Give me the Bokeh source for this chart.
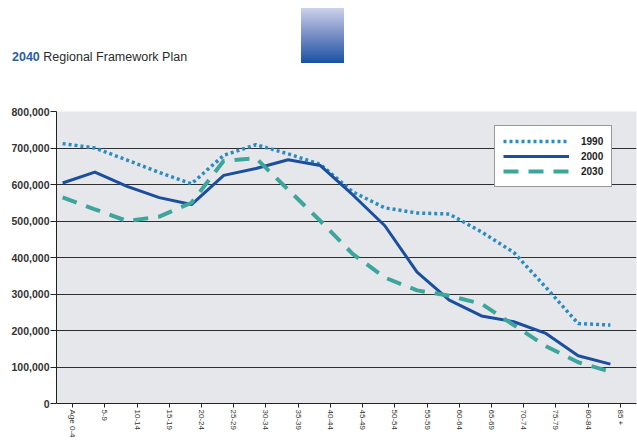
from bokeh.plotting import figure
from bokeh.models import (FactorRange, FixedTicker, NumeralTickFormatter, Legend,
                          LegendItem, Div, ColumnDataSource)
from bokeh.transform import dodge
from bokeh.layouts import column
from bokeh.embed import file_html
from bokeh.resources import INLINE

AGE_GROUPS = ["Age 0-4", "5-9", "10-14", "15-19", "20-24", "25-29", "30-34",
              "35-39", "40-44", "45-49", "50-54", "55-59", "60-64", "65-69",
              "70-74", "75-79", "80-84", "85 +"]
POP_1990 = [712000, 700000, 667000, 633000, 602000, 680000, 709000, 684000,
            655000, 580000, 536000, 522000, 519000, 470000, 414000, 318000,
            219000, 215000]
POP_2000 = [604000, 634000, 595000, 564000, 545000, 625000, 644000, 668000,
            652000, 572000, 487000, 360000, 283000, 240000, 224000, 192000,
            131000, 108000]
POP_2030 = [565000, 532000, 500000, 512000, 550000, 665000, 672000, 586000,
            500000, 410000, 345000, 310000, 295000, 273000, 215000, 157000,
            113000, 87000]
Y_TICKS = [0, 100000, 200000, 300000, 400000, 500000, 600000, 700000, 800000]
SERIES_NAMES = ["1990", "2000", "2030"]

FONT = "Liberation Sans"

src = ColumnDataSource(dict(age=AGE_GROUPS, p1990=POP_1990, p2000=POP_2000, p2030=POP_2030))

header = Div(
    text=(
        '<div style="position:relative;width:637px;height:103px;">'
        '<div style="position:absolute;left:301px;top:8px;width:43px;height:55px;'
        'background:linear-gradient(to bottom,#cdd2ea 0%,#7f93c8 45%,#1a52a3 100%);"></div>'
        '<div style="position:absolute;left:12px;top:50px;font-family:\'Liberation Sans\',Arial,sans-serif;'
        'font-size:12.5px;line-height:14px;color:#2b2b2b;white-space:nowrap;">'
        '<span style="color:#2c5ca8;font-weight:bold;">2040</span> Regional Framework Plan</div>'
        '</div>'
    ),
    width=637, height=103, margin=(0, 0, 0, 0),
)

p = figure(x_range=FactorRange(factors=AGE_GROUPS, range_padding=0),
           y_range=(0, 800000),
           frame_width=580, frame_height=292,
           min_border_left=56, min_border_top=8, min_border_right=1, min_border_bottom=36,
           output_backend="svg", toolbar_location=None,
           background_fill_color="#e6e7ea", border_fill_color="white")

x_shift = dodge("age", -0.31, range=p.x_range)

r1990 = p.line(x=x_shift, y="p1990", source=src, line_color="#2a8cc2", line_width=3.5,
               line_dash="3 3")
r2000 = p.line(x=x_shift, y="p2000", source=src, line_color="#1a4f9f", line_width=3,
               line_join="round")
r2030 = p.line(x=x_shift, y="p2030", source=src, line_color="#3ea59c", line_width=4,
               line_dash="15 10")

p.xgrid.grid_line_color = None
p.ygrid.ticker = FixedTicker(ticks=Y_TICKS)
p.ygrid.grid_line_color = "#2e2e2e"
p.ygrid.grid_line_width = 1.2
p.outline_line_color = None

p.yaxis.ticker = FixedTicker(ticks=Y_TICKS)
p.yaxis.formatter = NumeralTickFormatter(format="0,0")
p.yaxis.major_label_text_font = FONT
p.yaxis.major_label_text_font_size = "10.5px"
p.yaxis.major_label_text_font_style = "bold"
p.yaxis.major_label_text_color = "#333333"
p.yaxis.major_tick_out = 6
p.yaxis.major_tick_in = 0
p.yaxis.minor_tick_line_color = None
p.yaxis.major_label_standoff = 1
p.yaxis.axis_line_color = "#222222"
p.yaxis.major_tick_line_color = "#222222"

p.xaxis.major_label_orientation = "vertical"
p.xaxis.major_label_text_font = FONT
p.xaxis.major_label_text_font_size = "8px"
p.xaxis.major_label_text_color = "#333333"
p.xaxis.major_tick_out = 4
p.xaxis.major_tick_in = 0
p.xaxis.major_label_standoff = 2
p.xaxis.axis_line_color = "#222222"
p.xaxis.major_tick_line_color = "#222222"
p.xaxis.group_text_font_size = "0px"

legend = Legend(items=[LegendItem(label=SERIES_NAMES[0], renderers=[r1990]),
                       LegendItem(label=SERIES_NAMES[1], renderers=[r2000]),
                       LegendItem(label=SERIES_NAMES[2], renderers=[r2030])],
                location=(438, 216))
legend.label_text_font = FONT
legend.label_text_font_size = "10px"
legend.label_text_font_style = "bold"
legend.label_text_color = "#222222"
legend.glyph_width = 66
legend.glyph_height = 14
legend.label_height = 14
legend.label_standoff = 12
legend.spacing = 1
legend.padding = 8
legend.margin = 0
legend.border_line_color = "#333333"
legend.border_line_width = 1
legend.background_fill_color = "white"
legend.background_fill_alpha = 1
p.add_layout(legend, "center")

layout = column(header, p, spacing=0)
open("out.html", "w").write(file_html(layout, INLINE))
